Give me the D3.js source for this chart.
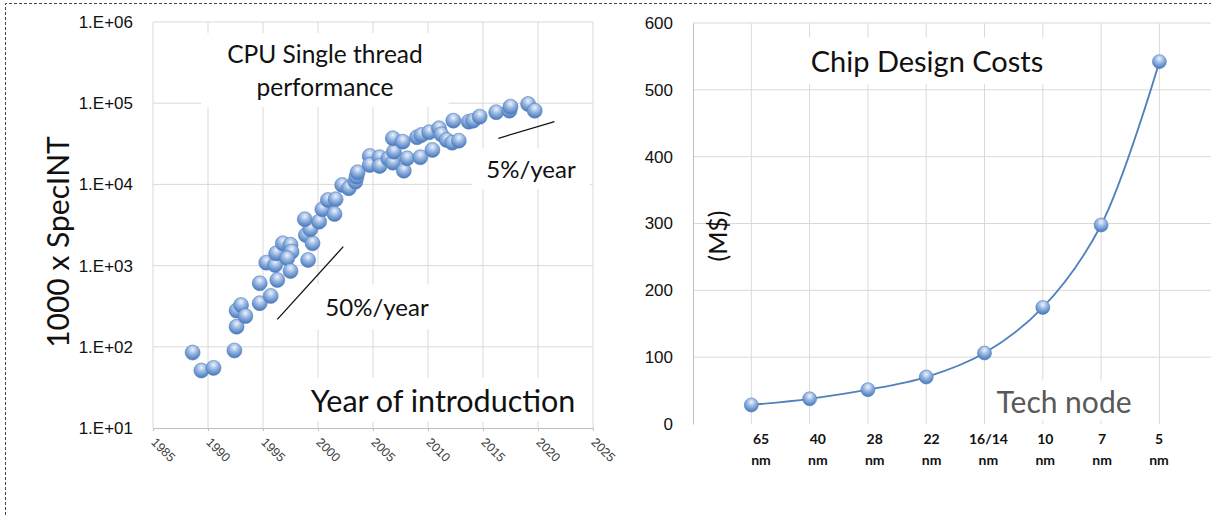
<!DOCTYPE html>
<html>
<head>
<meta charset="utf-8">
<script src="https://cdn.jsdelivr.net/npm/d3@7"></script>
<style>
  body { margin: 0; background: #fff; }
  svg { display: block; font-family: Lato, "Open Sans", sans-serif; }
</style>
</head>
<body>
<svg width="1211" height="515"></svg>
<script>
// CPU single thread performance (1000 x SpecINT)
const cpuYears = [1988.6, 1989.4, 1990.5, 1992.4, 1992.6, 1992.6, 1993.0, 1993.4, 1994.7, 1994.7,
  1995.7, 1996.3, 1995.3, 1996.1, 1996.2, 1996.8, 1997.5, 1997.6, 1997.2, 1997.5,
  1999.1, 1998.9, 1999.5, 1999.3, 1998.8, 2000.1, 2000.4, 2000.9, 2001.6, 2001.5,
  2002.2, 2002.8, 2003.4, 2003.5, 2003.6, 2004.7, 2004.7, 2005.6, 2005.6, 2006.4,
  2006.8, 2006.9, 2006.8, 2007.7, 2007.8, 2008.1, 2009.3, 2010.4, 2009.0, 2009.4,
  2010.1, 2011.0, 2011.2, 2011.7, 2012.2, 2012.8, 2012.3, 2013.7, 2014.1, 2014.7,
  2016.2, 2017.4, 2017.5, 2019.1, 2019.7];
const cpuPerf = [85, 51, 55, 90, 177, 279, 327, 239, 344, 606,
  423, 665, 1087, 1016, 1416, 1882, 1800, 1483, 1230, 857,
  1172, 2383, 1882, 2800, 3717, 3475, 4936, 6425, 6560, 4317,
  9840, 8957, 10790, 12440, 14100, 22390, 17350, 21590, 16860, 20740,
  18510, 25290, 36980, 33590, 14750, 20960, 21590, 26540, 38080, 40570,
  43850, 49090, 41420, 35250, 32660, 34540, 60950, 59190, 60950, 68260,
  77340, 80940, 90640, 97800, 80940];
const yearTicks = [1985, 1990, 1995, 2000, 2005, 2010, 2015, 2020, 2025];
const perfTicks = [1e1, 1e2, 1e3, 1e4, 1e5, 1e6];
// trend guide lines [year, value]
const trend50 = [[1996.3, 218], [2002.3, 1710]];
const trend5 = [[2016.4, 37000], [2021.5, 59200]];

// chip design costs (M$)
const nodes = ['65', '40', '28', '22', '16/14', '10', '7', '5'];
const costs = [28.5, 37.7, 51.3, 70.3, 106.3, 174.4, 297.8, 542.2];
const costTicks = [0, 100, 200, 300, 400, 500, 600];

const svg = d3.select('svg');
const grid = '#d9d9d9';

const defs = svg.append('defs');
const grad = defs.append('radialGradient').attr('id', 'ball')
  .attr('cx', '50%').attr('cy', '30%').attr('r', '70%');
grad.append('stop').attr('offset', '0%').attr('stop-color', '#eef3fb');
grad.append('stop').attr('offset', '45%').attr('stop-color', '#95b5e2');
grad.append('stop').attr('offset', '100%').attr('stop-color', '#4576b9');

// ---------- left chart ----------
const x1 = d3.scaleLinear().domain([1985, 2025]).range([153, 593]);
const y1 = d3.scaleLog().domain([10, 1e6]).range([428, 22]);

const left = svg.append('g');
left.append('g').selectAll('line').data(perfTicks.slice(1)).enter().append('line')
  .attr('x1', x1(1985)).attr('x2', x1(2025))
  .attr('y1', d => y1(d)).attr('y2', d => y1(d))
  .attr('stroke', grid);
left.append('g').selectAll('line').data(yearTicks).enter().append('line')
  .attr('x1', d => x1(d)).attr('x2', d => x1(d))
  .attr('y1', y1(1e6)).attr('y2', y1(10))
  .attr('stroke', grid);

const xAxis1 = left.append('g')
  .attr('transform', `translate(0,${y1(10)})`)
  .call(d3.axisBottom(x1).tickValues(yearTicks).tickSize(3).tickFormat(d3.format('d')));
xAxis1.select('.domain').attr('stroke', '#bfbfbf');
xAxis1.selectAll('.tick line').attr('stroke', '#bfbfbf');
xAxis1.selectAll('.tick text')
  .attr('font-size', 12.5).attr('fill', '#404040')
  .attr('text-anchor', 'start').attr('x', 0).attr('y', 0).attr('dy', 0)
  .attr('transform', 'translate(-3,15) rotate(45)');

const yAxis1 = left.append('g')
  .attr('transform', `translate(${x1(1985)},0)`)
  .call(d3.axisLeft(y1).tickValues(perfTicks).tickSize(0).tickPadding(20)
    .tickFormat(d => '1.E+' + String(Math.round(Math.log10(d))).padStart(2, '0')));
yAxis1.select('.domain').remove();
yAxis1.selectAll('.tick text').attr('font-size', 17).attr('fill', '#111');

// text boxes (white background like the source)
function boxedText(g, lines, cx, cy, size, color, padX, padY, lh) {
  const grp = g.append('g');
  const rect = grp.append('rect').attr('fill', '#fff');
  const t = grp.append('text').attr('text-anchor', 'middle')
    .attr('font-size', size).attr('fill', color);
  lines.forEach((s, i) => {
    t.append('tspan').attr('x', cx)
      .attr('y', cy + (i - (lines.length - 1) / 2) * lh)
      .attr('dy', '0.35em').text(s);
  });
  const b = t.node().getBBox();
  rect.attr('x', b.x - padX).attr('y', b.y - padY)
    .attr('width', b.width + 2 * padX).attr('height', b.height + 2 * padY);
  return grp;
}

boxedText(left, ['CPU Single thread', 'performance'], 325, 71, 24.5, '#111', 26, 6, 33);
boxedText(left, ['5%/year'], 531, 170, 24, '#111', 14, 6, 0);
boxedText(left, ['50%/year'], 377, 308, 24, '#111', 14, 8, 0);
boxedText(left, ['Year of introduction'], 443, 401, 30.5, '#111', 12, 4, 0);

const line = d3.line().x(d => x1(d[0])).y(d => y1(d[1]));
[trend50, trend5].forEach(t => {
  left.append('path').attr('d', line(t)).attr('stroke', '#111')
    .attr('stroke-width', 1.3).attr('fill', 'none');
});

left.append('g').selectAll('circle').data(cpuYears).enter().append('circle')
  .attr('cx', d => x1(d))
  .attr('cy', (d, i) => y1(cpuPerf[i]))
  .attr('r', 7.5)
  .attr('fill', 'url(#ball)')
  .attr('stroke', '#5582c0').attr('stroke-width', 0.6);

left.append('text')
  .attr('transform', `translate(58,242) rotate(-90)`)
  .attr('text-anchor', 'middle').attr('dy', '0.35em')
  .attr('font-size', 30).attr('fill', '#111')
  .text('1000 x SpecINT');

// ---------- right chart ----------
const step = 58.3;
const x2 = d3.scaleLinear().domain([0, 9]).range([693, 693 + 9 * step]);
const y2 = d3.scaleLinear().domain([0, 600]).range([424, 23]);
const xLab = d3.scalePoint().domain(nodes).range([761, 1159]);

const right = svg.append('g');
right.append('g').selectAll('line').data(costTicks.slice(1)).enter().append('line')
  .attr('x1', x2(0)).attr('x2', 1211)
  .attr('y1', d => y2(d)).attr('y2', d => y2(d))
  .attr('stroke', grid);
right.append('g').selectAll('line').data(d3.range(1, 9)).enter().append('line')
  .attr('x1', d => x2(d)).attr('x2', d => x2(d))
  .attr('y1', y2(600)).attr('y2', y2(0))
  .attr('stroke', grid);

const yAxis2 = right.append('g')
  .attr('transform', `translate(${x2(0)},0)`)
  .call(d3.axisLeft(y2).tickValues(costTicks).tickSize(0).tickPadding(20));
yAxis2.select('.domain').attr('stroke', '#bfbfbf');
yAxis2.selectAll('.tick text').attr('font-size', 17).attr('fill', '#111');

const labs = right.append('g').selectAll('text').data(nodes).enter().append('text')
  .attr('text-anchor', 'middle').attr('font-size', 14).attr('font-weight', 'bold')
  .attr('fill', '#111');
labs.append('tspan').attr('x', d => xLab(d)).attr('y', 444).text(d => d);
labs.append('tspan').attr('x', d => xLab(d)).attr('y', 465).text('nm');

boxedText(right, ['Chip Design Costs'], 927, 62, 29, '#111', 28, 6, 0);
boxedText(right, ['Tech node'], 1064, 402, 30, '#595959', 6, 2, 0);

right.append('text')
  .attr('transform', `translate(718,236) rotate(-90)`)
  .attr('text-anchor', 'middle').attr('dy', '0.35em')
  .attr('font-size', 25).attr('fill', '#111')
  .text('(M$)');

const costLine = d3.line()
  .x((d, i) => x2(i + 1)).y(d => y2(d))
  .curve(d3.curveCatmullRom.alpha(0.5));
right.append('path').attr('d', costLine(costs))
  .attr('fill', 'none').attr('stroke', '#4f81bd').attr('stroke-width', 1.8);
right.append('g').selectAll('circle').data(costs).enter().append('circle')
  .attr('cx', (d, i) => x2(i + 1)).attr('cy', d => y2(d))
  .attr('r', 7)
  .attr('fill', 'url(#ball)')
  .attr('stroke', '#5582c0').attr('stroke-width', 0.6);

// dashed frame
svg.append('path').attr('d', 'M5.5,515 V3.5 H1211')
  .attr('fill', 'none').attr('stroke', '#444')
  .attr('stroke-dasharray', '3,2').attr('stroke-width', 1);
</script>
</body>
</html>
